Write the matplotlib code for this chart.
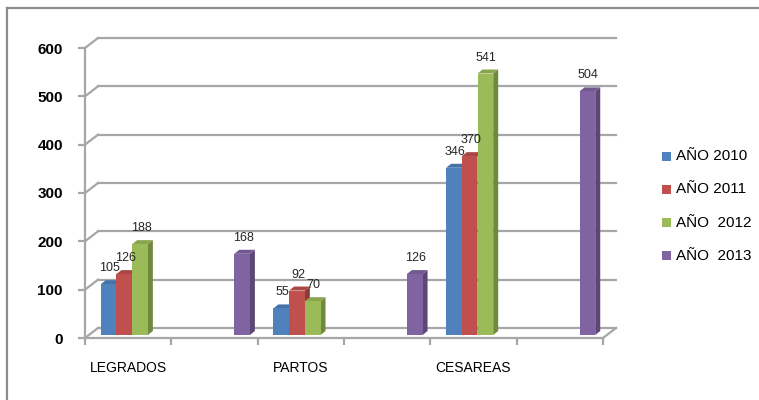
import numpy as np
import matplotlib
matplotlib.use("Agg")
import matplotlib.pyplot as plt
from matplotlib.patches import Polygon, Rectangle
from matplotlib.lines import Line2D

plt.rcParams['font.family'] = ['Liberation Sans', 'DejaVu Sans']

# categories (every other slot is empty in the original sheet)
categories = ["LEGRADOS", "", "PARTOS", "", "CESAREAS", ""]
series_names = ["AÑO 2010", "AÑO 2011", "AÑO  2012", "AÑO  2013"]
y2010 = [105, np.nan, 55, np.nan, 346, np.nan]
y2011 = [126, np.nan, 92, np.nan, 370, np.nan]
y2012 = [188, np.nan, 70, np.nan, 541, np.nan]
y2013 = [np.nan, 168, np.nan, 126, np.nan, 504]
yticks = [0, 100, 200, 300, 400, 500, 600]

front = ["#4F81BD", "#C0504D", "#9BBB59", "#8064A2"]
side = ["#385D8A", "#8C3836", "#71893F", "#5C4776"]
top = ["#4672AA", "#AA4643", "#89A54E", "#71588F"]

W, H = 759, 400
fig = plt.figure(figsize=(W / 100, H / 100), dpi=100)
# axes in pixel coords: front axis x 85..603, y 338 (0) .. 48 (600)
ax = fig.add_axes([85 / W, (H - 338) / H, (603 - 85) / W, (338 - 48) / H])
n = len(categories)
ax.set_xlim(-0.5, n - 0.5)
ax.set_ylim(0, 600)

pxx = (603 - 85) / n          # px per x unit
pxy = (338 - 48) / 600        # px per y unit
def dx(p): return p / pxx
def dy(p): return p / pxy

grid_c = "#A6A6A6"
# back wall grid + perspective diagonals
bx, by = dx(13), dy(10)
for v in yticks:
    ax.add_line(Line2D([-0.5 + bx, n - 0.5 + bx], [v + by, v + by], color=grid_c, lw=1.6, clip_on=False, zorder=1))
    ax.add_line(Line2D([-0.5, -0.5 + bx], [v, v + by], color=grid_c, lw=1.6, clip_on=False, zorder=1))
ax.add_line(Line2D([n - 0.5, n - 0.5 + bx], [0, by], color=grid_c, lw=1.6, clip_on=False, zorder=1))

for s in ["top", "right"]:
    ax.spines[s].set_visible(False)
for s in ["left", "bottom"]:
    ax.spines[s].set_color(grid_c)
    ax.spines[s].set_linewidth(1.6)
ax.set_yticks(yticks)
ax.set_yticklabels([str(v) for v in yticks], fontsize=11, fontweight="bold")
ax.set_xticks(np.arange(-0.5, n, 1.0))
ax.set_xticklabels([])
ax.tick_params(axis="both", color=grid_c, width=1.6, length=5)
ax.tick_params(axis="y", pad=11)
for i, c in enumerate(categories):
    if c:
        ax.text(i, -dy(30), c, ha="center", va="center", fontsize=10, clip_on=False)

# 3D-ish columns
slot = dx(15.7)
sx, sy = dx(4), dy(3)
ddx, ddy = dx(5), dy(4)
series = [y2010, y2011, y2012, y2013]
bars = []
for k, vals in enumerate(series):
    for i, v in enumerate(vals):
        if np.isnan(v):
            continue
        x0 = i - 2 * slot + k * slot + sx
        bars.append((x0, v, k))
bars.sort(key=lambda b: b[0])
for x0, v, k in bars:
    x1 = x0 + slot
    y0, y1 = sy, v + sy
    ax.add_patch(Polygon([(x1, y0), (x1 + ddx, y0 + ddy), (x1 + ddx, y1 + ddy), (x1, y1)],
                         closed=True, fc=side[k], ec="none", zorder=3, clip_on=False))
    ax.add_patch(Polygon([(x0, y1), (x0 + ddx, y1 + ddy), (x1 + ddx, y1 + ddy), (x1, y1)],
                         closed=True, fc=top[k], ec="none", zorder=3, clip_on=False))
    ax.add_patch(Rectangle((x0, y0), slot, v, fc=front[k], ec="none", zorder=3, clip_on=False))
    ax.text(x0 + slot / 2 + dx(1), y1 + dy(16), f"{v:.0f}", ha="center", va="center",
            fontsize=9, color="#262626", zorder=5, clip_on=False)

# legend
for k, name in enumerate(series_names):
    yc = 156 + k * 33.3
    fig.add_artist(Rectangle((662 / W, 1 - (yc + 4.5) / H), 9 / W, 9 / H, fc=front[k], ec="none",
                             transform=fig.transFigure))
    fig.text(676 / W, 1 - yc / H, name, ha="left", va="center", fontsize=11)

# chart frame
fig.add_artist(Line2D([7 / W, 7 / W], [0, 1 - 8 / H], color="#8C8C8C", lw=1.6, transform=fig.transFigure))
fig.add_artist(Line2D([7 / W, 1], [1 - 8 / H, 1 - 8 / H], color="#8C8C8C", lw=1.6, transform=fig.transFigure))

fig.savefig("out.png", dpi=100)
